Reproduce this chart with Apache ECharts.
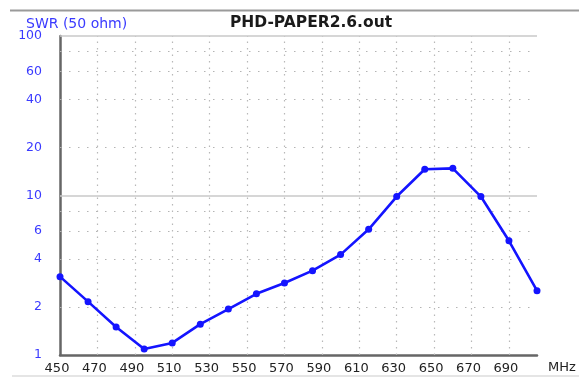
<!DOCTYPE html>
<html>
<head>
<meta charset="utf-8">
<script src="https://cdn.jsdelivr.net/npm/echarts@6/dist/echarts.min.js"></script>
<style>
html,body{margin:0;padding:0;background:#fff;}
#c{width:579px;height:380px;}
</style>
</head>
<body>
<div id="c"></div>
<script>
const chartTitle = 'PHD-PAPER2.6.out';
const yAxisTitle = 'SWR (50 ohm)';
const xAxisUnit = 'MHz';
const freqs = [450, 465, 480, 495, 510, 525, 540, 555, 570, 585, 600, 615, 630, 645, 660, 675, 690, 705];
const swr = [3.1, 2.16, 1.5, 1.09, 1.19, 1.56, 1.94, 2.42, 2.83, 3.38, 4.26, 6.14, 9.85, 14.6, 14.8, 9.85, 5.2, 2.53];
const yTickLabels = [1, 2, 4, 6, 10, 20, 40, 60, 100];
const yDottedGrid = [2, 4, 6, 8, 20, 40, 60, 80];
const ySolidGrid = [10, 100];
const xTickLabels = [450, 470, 490, 510, 530, 550, 570, 590, 610, 630, 650, 670, 690];
const xDottedGrid = [470, 490, 510, 530, 550, 570, 590, 610, 630, 650, 670, 690];

const FONT = '"DejaVu Sans", Verdana, sans-serif';
const chart = echarts.init(document.getElementById('c'), null, {renderer: 'canvas'});

const markData = [];
yDottedGrid.forEach(v => markData.push({yAxis: v, lineStyle: {color: '#b4b4b4', width: 1.2, type: [1.5, 7.5]}}));
ySolidGrid.forEach(v => markData.push({yAxis: v, lineStyle: {color: '#c8c8c8', width: 1.5, type: 'solid'}}));
xDottedGrid.forEach(v => markData.push({xAxis: v, lineStyle: {color: '#b8b8b8', width: 1.2, type: [1.5, 5]}}));

chart.setOption({
  animation: false,
  backgroundColor: '#fff',
  title: [
    {text: chartTitle, left: 306, top: 10, textAlign: 'center',
     textStyle: {fontFamily: FONT, fontSize: 15.5, fontWeight: 'bold', color: '#1a1a1a'}},
    {text: yAxisTitle, left: 21, top: 12,
     textStyle: {fontFamily: FONT, fontSize: 14, fontWeight: 'normal', color: '#3a3aff'}}
  ],
  graphic: [
    {type: 'line', shape: {x1: 10, y1: 10.5, x2: 579, y2: 10.5}, style: {stroke: '#9a9a9a', lineWidth: 2}, silent: true},
    {type: 'line', shape: {x1: 12, y1: 376, x2: 579, y2: 376}, style: {stroke: '#dcdcdc', lineWidth: 1.5}, silent: true}
  ],
  grid: {left: 60, right: 42, top: 36, bottom: 25, containLabel: false},
  xAxis: {
    type: 'value', min: 450, max: 705, interval: 20,
    axisLine: {show: true, onZero: false, lineStyle: {color: '#666', width: 2.5}},
    axisTick: {show: false},
    splitLine: {show: false},
    axisLabel: {
      customValues: xTickLabels,
      margin: 7, fontFamily: FONT, fontSize: 13, color: '#222',
      padding: [0, 6, 0, 0]
    },
    name: xAxisUnit, nameLocation: 'end', nameGap: 11,
    nameTextStyle: {fontFamily: FONT, fontSize: 13, color: '#222', verticalAlign: 'top', padding: [6, 0, 0, 0]}
  },
  yAxis: {
    type: 'log', logBase: 10, min: 1, max: 100,
    axisLine: {show: true, lineStyle: {color: '#666', width: 2.5}},
    axisTick: {show: false},
    splitLine: {show: false},
    axisLabel: {
      customValues: yTickLabels,
      margin: 18, fontFamily: FONT, fontSize: 12.5, color: '#3a3aff'
    }
  },
  series: [{
    type: 'line',
    data: freqs.map((f, i) => [f, swr[i]]),
    symbol: 'circle', symbolSize: 7,
    lineStyle: {color: '#1414ff', width: 2.6},
    itemStyle: {color: '#1414ff'},
    z: 3,
    markLine: {
      silent: true, symbol: 'none', z: 1,
      label: {show: false},
      emphasis: {disabled: true},
      data: markData
    }
  }]
});
</script>
</body>
</html>
